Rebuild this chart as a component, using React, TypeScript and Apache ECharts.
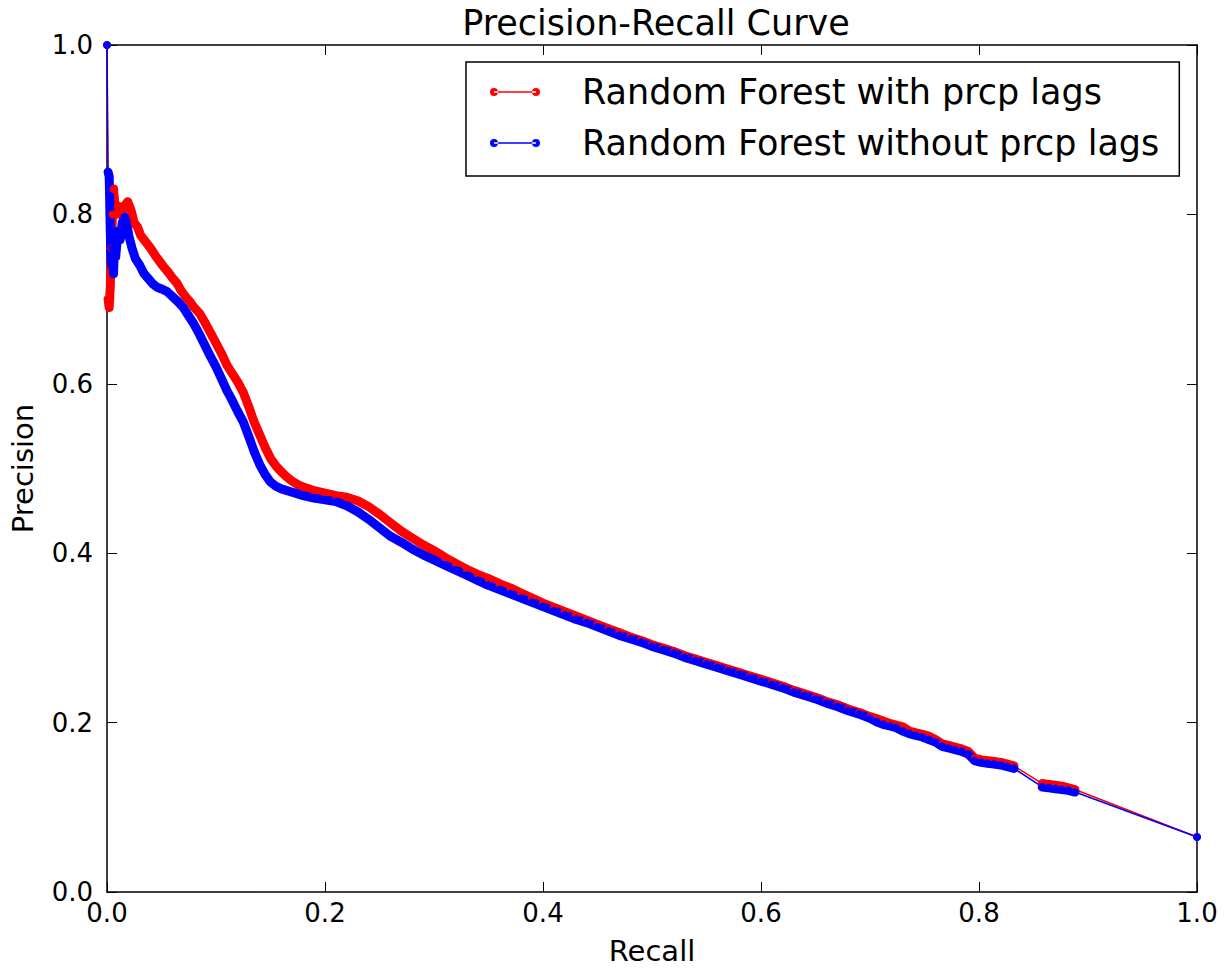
import React, { useEffect, useRef } from "react";
import * as echarts from "echarts";

const xTicks = [0, 0.2, 0.4, 0.6, 0.8, 1.0];
const yTicks = [0, 0.2, 0.4, 0.6, 0.8, 1.0];

const seriesNames = ["Random Forest with prcp lags", "Random Forest without prcp lags"];

// [recall, precision]
const withLags: number[][] = [
  [0, 1.0], [0.001, 0.7], [0.002, 0.69], [0.003, 0.715], [0.004, 0.76], [0.005, 0.8], [0.006, 0.83],
  [0.008, 0.8], [0.01, 0.81], [0.013, 0.8], [0.016, 0.81], [0.019, 0.815], [0.022, 0.805], [0.025, 0.79],
  [0.028, 0.785], [0.031, 0.775], [0.034, 0.77], [0.037, 0.765], [0.04, 0.76], [0.044, 0.752], [0.048, 0.745],
  [0.052, 0.738], [0.056, 0.732], [0.06, 0.725], [0.064, 0.719], [0.068, 0.71], [0.072, 0.703], [0.076, 0.697],
  [0.08, 0.69], [0.085, 0.683], [0.09, 0.672], [0.095, 0.66], [0.1, 0.648], [0.105, 0.636], [0.11, 0.622],
  [0.115, 0.612], [0.12, 0.602], [0.125, 0.59], [0.13, 0.573], [0.135, 0.555], [0.14, 0.54], [0.145, 0.525],
  [0.15, 0.512], [0.155, 0.503], [0.16, 0.496], [0.165, 0.49], [0.17, 0.485], [0.175, 0.481], [0.18, 0.478],
  [0.19, 0.474], [0.2, 0.471], [0.21, 0.468], [0.22, 0.466], [0.23, 0.462], [0.24, 0.455], [0.25, 0.446],
  [0.26, 0.436], [0.27, 0.426], [0.28, 0.418], [0.29, 0.41], [0.3, 0.403], [0.31, 0.395], [0.32, 0.388],
  [0.33, 0.381], [0.34, 0.375], [0.35, 0.37], [0.36, 0.364], [0.37, 0.359], [0.38, 0.353], [0.39, 0.347],
  [0.4, 0.341], [0.41, 0.336], [0.42, 0.331], [0.43, 0.326], [0.44, 0.321], [0.45, 0.316], [0.46, 0.311],
  [0.47, 0.306], [0.48, 0.301], [0.49, 0.297], [0.5, 0.292], [0.51, 0.288], [0.52, 0.284], [0.53, 0.279],
  [0.54, 0.275], [0.55, 0.271], [0.56, 0.267], [0.57, 0.263], [0.58, 0.259], [0.59, 0.255], [0.6, 0.251],
  [0.61, 0.247], [0.62, 0.243], [0.63, 0.238], [0.64, 0.234], [0.65, 0.23], [0.66, 0.225], [0.67, 0.221],
  [0.68, 0.216], [0.69, 0.212], [0.7, 0.207], [0.705, 0.205], [0.712, 0.202], [0.718, 0.199], [0.724, 0.197],
  [0.73, 0.195], [0.736, 0.19], [0.742, 0.188], [0.748, 0.186], [0.754, 0.184], [0.76, 0.18], [0.766, 0.175],
  [0.772, 0.173], [0.778, 0.171], [0.784, 0.169], [0.79, 0.166], [0.796, 0.158], [0.802, 0.156], [0.808, 0.155],
  [0.814, 0.154], [0.82, 0.153], [0.826, 0.151], [0.832, 0.149], [0.858, 0.128], [0.864, 0.127], [0.87, 0.126],
  [0.876, 0.125], [0.882, 0.123], [0.888, 0.121], [1.0, 0.065],
];

const withoutLags: number[][] = [
  [0, 1.0], [0.001, 0.85], [0.002, 0.845], [0.003, 0.78], [0.004, 0.74], [0.005, 0.76], [0.006, 0.73],
  [0.007, 0.77], [0.008, 0.75], [0.01, 0.78], [0.012, 0.77], [0.014, 0.79], [0.016, 0.797], [0.018, 0.79],
  [0.02, 0.775], [0.023, 0.76], [0.026, 0.748], [0.03, 0.74], [0.034, 0.73], [0.038, 0.724], [0.042, 0.718],
  [0.046, 0.714], [0.05, 0.712], [0.055, 0.709], [0.06, 0.703], [0.065, 0.697], [0.07, 0.69], [0.075, 0.68],
  [0.08, 0.67], [0.085, 0.658], [0.09, 0.645], [0.095, 0.632], [0.1, 0.62], [0.105, 0.606], [0.11, 0.592],
  [0.115, 0.58], [0.12, 0.567], [0.125, 0.555], [0.13, 0.538], [0.135, 0.52], [0.14, 0.505], [0.145, 0.493],
  [0.15, 0.484], [0.155, 0.479], [0.16, 0.476], [0.17, 0.472], [0.18, 0.468], [0.19, 0.465], [0.2, 0.463],
  [0.21, 0.461], [0.22, 0.456], [0.23, 0.449], [0.24, 0.44], [0.25, 0.43], [0.26, 0.42], [0.27, 0.413],
  [0.28, 0.405], [0.29, 0.398], [0.3, 0.392], [0.31, 0.386], [0.32, 0.38], [0.33, 0.374], [0.34, 0.368],
  [0.35, 0.362], [0.36, 0.357], [0.37, 0.352], [0.38, 0.347], [0.39, 0.342], [0.4, 0.337], [0.41, 0.332],
  [0.42, 0.327], [0.43, 0.322], [0.44, 0.318], [0.45, 0.313], [0.46, 0.308], [0.47, 0.303], [0.48, 0.299],
  [0.49, 0.295], [0.5, 0.29], [0.51, 0.286], [0.52, 0.282], [0.53, 0.277], [0.54, 0.273], [0.55, 0.269],
  [0.56, 0.265], [0.57, 0.261], [0.58, 0.257], [0.59, 0.253], [0.6, 0.249], [0.61, 0.245], [0.62, 0.241],
  [0.63, 0.236], [0.64, 0.232], [0.65, 0.228], [0.66, 0.223], [0.67, 0.219], [0.68, 0.214], [0.69, 0.21],
  [0.7, 0.205], [0.706, 0.201], [0.712, 0.198], [0.718, 0.196], [0.724, 0.194], [0.73, 0.19], [0.736, 0.187],
  [0.742, 0.185], [0.748, 0.183], [0.754, 0.18], [0.76, 0.177], [0.766, 0.172], [0.772, 0.17], [0.778, 0.168],
  [0.784, 0.166], [0.79, 0.163], [0.796, 0.155], [0.802, 0.153], [0.808, 0.152], [0.814, 0.151], [0.82, 0.15],
  [0.826, 0.148], [0.832, 0.146], [0.858, 0.124], [0.864, 0.123], [0.87, 0.122], [0.876, 0.121], [0.882, 0.12],
  [0.888, 0.118], [1.0, 0.065],
];

const FONT = "DejaVu Sans";
const RED = "#ff0000";
const BLUE = "#0000ff";
const legendIcon =
  "path://M4,3.2 L46,3.2 L46,4.8 L4,4.8 Z M0,4 A4,4 0 1,0 8,4 A4,4 0 1,0 0,4 Z M42,4 A4,4 0 1,0 50,4 A4,4 0 1,0 42,4 Z";

// The dense marker runs form a thick band; break it wherever consecutive points are far apart
function markerRuns(data: number[][]) {
  const out: (number[] | null)[] = [];
  for (let i = 1; i < data.length; i++) {
    if (i > 1 && data[i][0] - data[i - 1][0] > 0.015) out.push(null);
    out.push(data[i]);
  }
  return out;
}

function modelSeries(name: string, data: number[][], color: string) {
  return [
    {
      name,
      type: "line",
      data,
      color,
      symbol: "circle",
      symbolSize: 8,
      showAllSymbol: true,
      lineStyle: { width: 1.5, color },
      itemStyle: { color },
    },
    {
      name: name + " band",
      type: "line",
      data: markerRuns(data),
      connectNulls: false,
      color,
      symbol: "none",
      lineStyle: { width: 9, color, cap: "round", join: "round" },
      legendHoverLink: false,
    },
  ];
}

export default function App() {
  const ref = useRef<HTMLDivElement>(null);
  useEffect(() => {
    if (!ref.current) return;
    const chart = echarts.init(ref.current, undefined, { renderer: "svg" });
    const axisLine = { show: true, onZero: false, lineStyle: { color: "#000", width: 1.5 } };
    const tick = { show: true, inside: true, length: 10, lineStyle: { color: "#000", width: 1 } };
    const fmt = (v: number) => v.toFixed(1);
    chart.setOption({
      animation: false,
      backgroundColor: "#fff",
      title: {
        text: "Precision-Recall Curve",
        left: 651,
        textAlign: "center",
        top: 0,
        textStyle: { fontFamily: FONT, fontSize: 35, fontWeight: "normal", color: "#000" },
      },
      grid: { left: 107, right: 32, top: 45, bottom: 82, show: false },
      legend: {
        orient: "vertical",
        left: 466,
        top: 62,
        data: seriesNames.map((n) => ({ name: n, icon: legendIcon })),
        itemWidth: 50,
        itemHeight: 8,
        itemGap: 13,
        padding: [11, 20, 14, 24],
        borderColor: "#000",
        borderWidth: 1.5,
        backgroundColor: "#fff",
        borderRadius: 0,
        textStyle: { fontFamily: FONT, fontSize: 35, color: "#000", lineHeight: 38, padding: [0, 0, 0, 37] },
      },
      xAxis: [
        {
          type: "value",
          min: 0,
          max: 1,
          interval: 0.2,
          position: "bottom",
          name: "Recall",
          nameLocation: "middle",
          nameGap: 44,
          nameTextStyle: { fontFamily: FONT, fontSize: 29, color: "#000" },
          axisLine,
          axisTick: tick,
          axisLabel: { formatter: fmt, fontFamily: FONT, fontSize: 26, color: "#000", margin: 8 },
          splitLine: { show: false },
        },
        {
          type: "value",
          min: 0,
          max: 1,
          interval: 0.2,
          position: "top",
          axisLine,
          axisTick: tick,
          axisLabel: { show: false },
          splitLine: { show: false },
        },
      ],
      yAxis: [
        {
          type: "value",
          min: 0,
          max: 1,
          interval: 0.2,
          position: "left",
          name: "Precision",
          nameLocation: "middle",
          nameGap: 70,
          nameTextStyle: { fontFamily: FONT, fontSize: 29, color: "#000" },
          axisLine,
          axisTick: tick,
          axisLabel: { formatter: fmt, fontFamily: FONT, fontSize: 26, color: "#000", margin: 14 },
          splitLine: { show: false },
        },
        {
          type: "value",
          min: 0,
          max: 1,
          interval: 0.2,
          position: "right",
          axisLine,
          axisTick: tick,
          axisLabel: { show: false },
          splitLine: { show: false },
        },
      ],
      series: [...modelSeries(seriesNames[0], withLags, RED), ...modelSeries(seriesNames[1], withoutLags, BLUE)],
    });
    return () => chart.dispose();
  }, []);
  return <div ref={ref} style={{ position: "fixed", left: 0, top: 0, width: 1229, height: 974 }} />;
}
